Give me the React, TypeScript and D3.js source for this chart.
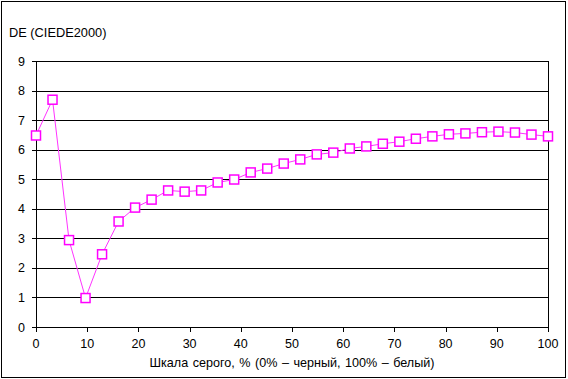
import React from "react";
import * as d3 from "d3";

const yTicks = [0, 1, 2, 3, 4, 5, 6, 7, 8, 9];
const xTicks = [0, 10, 20, 30, 40, 50, 60, 70, 80, 90, 100];
const deValues = [
  6.48, 7.69, 2.94, 0.98, 2.46, 3.57, 4.04, 4.31, 4.62, 4.58, 4.62, 4.89,
  4.99, 5.23, 5.36, 5.53, 5.67, 5.84, 5.9, 6.04, 6.11, 6.2, 6.27, 6.37,
  6.45, 6.52, 6.55, 6.59, 6.61, 6.58, 6.51, 6.45,
];
const grayLevels = deValues.map((_, i) => (i * 100) / (deValues.length - 1));
const yTitle = "DE (CIEDE2000)";
const xTitle = "Шкала серого, % (0% – черный, 100% – белый)";

export default function App() {
  const W = 568, H = 379;
  const x = d3.scaleLinear().domain([0, 100]).range([36, 548]);
  const y = d3.scaleLinear().domain([0, 9]).range([327, 61]);
  const pts = grayLevels.map((g, i) => [x(g), y(deValues[i])] as [number, number]);
  const line = d3.line()(pts) || "";
  const font = "'Liberation Sans', Arial, sans-serif";
  return (
    <svg width={W} height={H} style={{ position: "absolute", left: 0, top: 0 }}>
      <rect x={0} y={0} width={W} height={H} fill="#fff" />
      <rect x={1.5} y={1.5} width={564} height={376} fill="none" stroke="#000" strokeWidth={1} />
      {yTicks.map((t) => (
        <g key={t}>
          <line x1={32} x2={548} y1={Math.round(y(t)) + 0.5} y2={Math.round(y(t)) + 0.5} stroke="#000" />
          <text x={25} y={y(t) + 4.5} textAnchor="end" fontFamily={font} fontSize={12.5} fill="#000">{t}</text>
        </g>
      ))}
      <line x1={36.5} x2={36.5} y1={61} y2={327.5} stroke="#000" />
      <line x1={548.5} x2={548.5} y1={61} y2={327.5} stroke="#000" />
      {xTicks.map((t) => (
        <g key={t}>
          <line x1={Math.round(x(t)) + 0.5} x2={Math.round(x(t)) + 0.5} y1={327} y2={332} stroke="#000" />
          <text x={x(t)} y={348} textAnchor="middle" fontFamily={font} fontSize={12.5} fill="#000">{t}</text>
        </g>
      ))}
      <path d={line} fill="none" stroke="#ff33ff" strokeWidth={1} />
      {pts.map(([px, py], i) => (
        <rect key={i} x={px - 4.5} y={py - 4.5} width={9} height={9} fill="#fff" stroke="#ff00ff" strokeWidth={1.5} />
      ))}
      <text x={9} y={37} fontFamily={font} fontSize={12.8} fill="#000">{yTitle}</text>
      <text x={292} y={367} textAnchor="middle" fontFamily={font} fontSize={12.6} fill="#000" style={{ wordSpacing: "1px" }}>{xTitle}</text>
    </svg>
  );
}
